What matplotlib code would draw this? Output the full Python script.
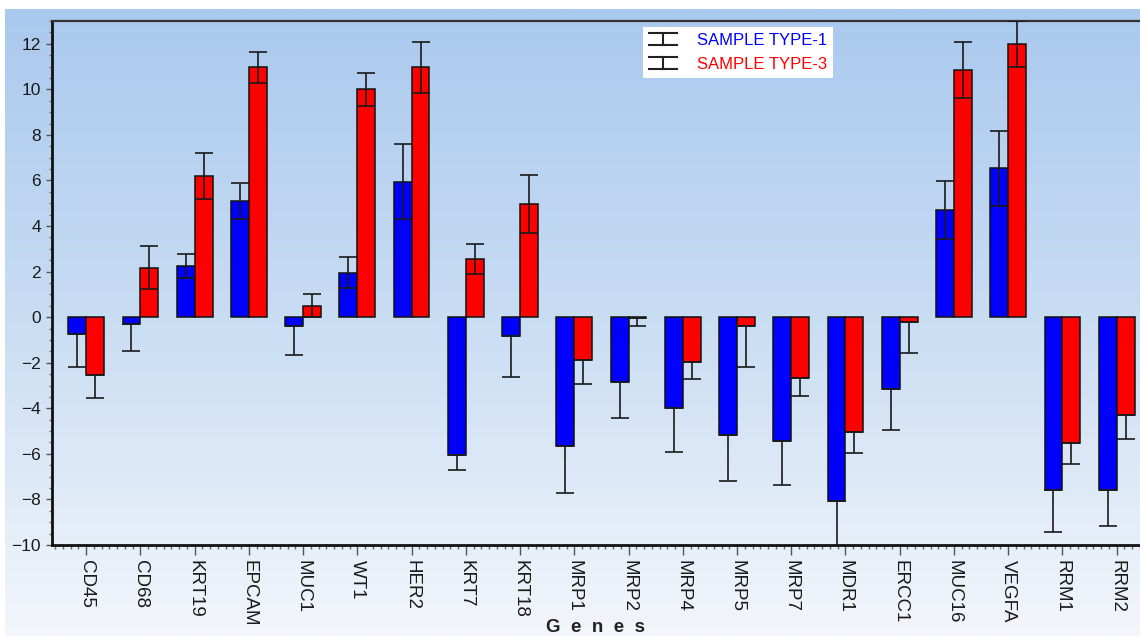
import numpy as np
import matplotlib
matplotlib.use('Agg')
import matplotlib.pyplot as plt
from matplotlib.colors import LinearSegmentedColormap
from matplotlib.ticker import MultipleLocator
from matplotlib.legend_handler import HandlerBase
from matplotlib.lines import Line2D

plt.rcParams['font.family'] = ['Liberation Sans', 'DejaVu Sans']

genes = ['CD45', 'CD68', 'KRT19', 'EPCAM', 'MUC1', 'WT1', 'HER2', 'KRT7', 'KRT18',
         'MRP1', 'MRP2', 'MRP4', 'MRP5', 'MRP7', 'MDR1', 'ERCC1', 'MUC16', 'VEGFA',
         'RRM1', 'RRM2']
type1 = [-0.75, -0.3, 2.25, 5.1, -0.37, 1.95, 5.95, -6.05, -0.83,
         -5.65, -2.86, -3.98, -5.18, -5.42, -8.05, -3.15, 4.72, 6.53,
         -7.6, -7.6]
type1_err = [1.45, 1.2, 0.52, 0.77, 1.27, 0.68, 1.63, 0.66, 1.8,
             2.08, 1.57, 1.95, 2.02, 1.94, 2.3, 1.8, 1.27, 1.65,
             1.85, 1.55]
type3 = [-2.56, 2.18, 6.2, 10.97, 0.51, 10.0, 10.97, 2.55, 4.96,
         -1.88, -0.03, -1.96, -0.37, -2.67, -5.04, -0.22, 10.87, 12.0,
         -5.53, -4.31]
type3_err = [1.0, 0.95, 1.0, 0.67, 0.5, 0.73, 1.13, 0.66, 1.27,
             1.04, 0.34, 0.75, 1.8, 0.8, 0.93, 1.35, 1.23, 1.0,
             0.92, 1.03]
labels = ['SAMPLE TYPE-1', 'SAMPLE TYPE-3']


def err_pair(vals, errs):
    v = np.array(vals)
    e = np.array(errs)
    # negative bars only show the error away from zero
    return [e, np.where(v > 0, e, 0)]


class IBeam(HandlerBase):
    # legend key: two caps joined by a vertical stroke
    def create_artists(self, legend, orig, xd, yd, width, height, fontsize, trans):
        x0, x1 = -xd, -xd + width
        y0, y1 = -yd - 0.05 * height, -yd + 1.05 * height
        xm = (x0 + x1) / 2
        kw = dict(color='#222222', lw=1.5, transform=trans)
        return [Line2D([x0, x1], [y0, y0], **kw),
                Line2D([x0, x1], [y1, y1], **kw),
                Line2D([xm, xm], [y0, y1], **kw)]


fig = plt.figure(figsize=(11.4, 6.36), dpi=100, facecolor='white')

# gradient background
bg = fig.add_axes([5 / 1140, 0, 1, 1 - 9 / 636], zorder=-5)
cmap = LinearSegmentedColormap.from_list('bg', ['#aac9ee', '#c9ddf3', '#f3f6fb'])
grad = np.linspace(0, 1, 256).reshape(-1, 1)
bg.imshow(grad, cmap=cmap, aspect='auto', extent=[0, 1, 0, 1], origin='upper')
bg.axis('off')

ax = fig.add_axes([52 / 1140, 91 / 636, 1088 / 1140, 1 - 112 / 636])
ax.set_facecolor('none')

x = np.arange(len(genes))
w = 0.33
ax.bar(x - w / 2, type1, w, color='#0000ff', edgecolor='#111111', linewidth=1.1, zorder=2)
ax.bar(x + w / 2, type3, w, color='#ff0000', edgecolor='#111111', linewidth=1.1, zorder=2)
e1 = ax.errorbar(x - w / 2, type1, yerr=err_pair(type1, type1_err), fmt='none',
                 ecolor='#1a1a1a', elinewidth=1.2, capsize=6.3, capthick=1.2, zorder=3)
e3 = ax.errorbar(x + w / 2, type3, yerr=err_pair(type3, type3_err), fmt='none',
                 ecolor='#1a1a1a', elinewidth=1.2, capsize=6.3, capthick=1.2, zorder=3)

ax.set_xlim(-0.63, 19.43)
ax.set_ylim(-10, 13)
ax.set_xticks(x)
ax.set_xticklabels(genes, rotation=270, fontsize=13.5, color='#1a1a1a')
ax.xaxis.set_minor_locator(MultipleLocator(1 / 7))
ax.set_yticks(np.arange(-10, 13, 2))
ax.yaxis.set_minor_locator(MultipleLocator(0.5))
ax.tick_params(axis='y', which='major', length=4, width=1, color='#555555',
               labelsize=12.5, labelcolor='#1a1a1a', pad=4)
ax.tick_params(axis='y', which='minor', length=2, width=1, color='#777777')
ax.tick_params(axis='x', which='major', length=7, width=1, color='#555555', pad=4)
ax.tick_params(axis='x', which='minor', length=3, width=1, color='#666666')

for side in ['left', 'bottom']:
    ax.spines[side].set_linewidth(2)
    ax.spines[side].set_color('#111111')
ax.spines['top'].set_linewidth(1.6)
ax.spines['top'].set_color('#333333')
ax.spines['right'].set_visible(False)

fig.text(596 / 1140, 1 - 627 / 636, 'G  e  n  e  s', fontsize=13.5, fontweight='bold',
         color='#222222', ha='center', va='center')

leg = ax.legend(handles=[e1, e3], labels=labels, handler_map={type(e1): IBeam()},
                loc='upper left', bbox_to_anchor=(643 / 1140, 1 - 27 / 636),
                bbox_transform=fig.transFigure, borderaxespad=0, frameon=True,
                fancybox=False, framealpha=1, edgecolor='white', fontsize=12,
                handlelength=1.7, handleheight=0.6, handletextpad=1.2,
                borderpad=0.35, labelspacing=0.55)
leg.get_frame().set_linewidth(0)
for t, c in zip(leg.get_texts(), ['#0000ff', '#ff0000']):
    t.set_color(c)

fig.savefig('out.png', dpi=100, facecolor='white')
